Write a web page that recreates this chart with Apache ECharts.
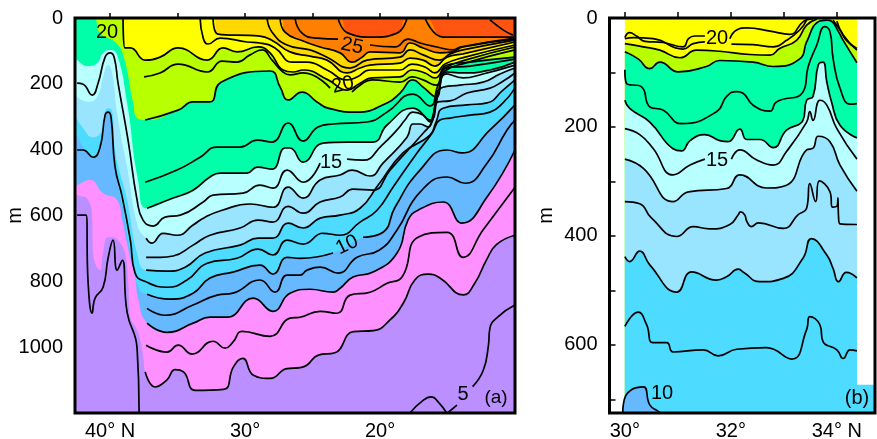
<!DOCTYPE html>
<html><head><meta charset="utf-8">
<style>html,body{margin:0;padding:0;background:#fff}#c{width:877px;height:439px}</style>
<script src="https://cdn.jsdelivr.net/npm/echarts@6/dist/echarts.min.js"></script></head>
<body><div id="c"></div>
<script>
// Panel (a): isotherms as [latitude, depth m]; null = gap for a contour label
const redLeft=[[23.11,0],[22.37,46],[20.52,58],[18.74,46],[18,0]];
const redRight=[[16.67,0],[15.33,58],[14.07,58],[10,58]];
const redInner=[[11.85,6],[10.89,36],[10.15,52]];
const lineB=[[26.3,0],[25.78,46],[24.67,61],[23.11,64],null,[20.74,82],[18.89,88],[17.93,64],[17.04,76],[15.78,88],[14.59,97],[14.07,88],[10,61]];
const lineC=[[27.4,0],[27.04,43],[25.7,70],[24.44,88],[22.96,106],[22.07,134],[21.33,119],[20.74,103],[18.52,106],[17.78,76],[16.81,91],[15.56,106],[14.67,103],[13.85,88],[10,64]];
const lineD=[[28.37,0],[28,43],[26.89,82],[25.19,97],[23.93,119],[22.22,152],[20.96,128],[18.52,119],[17.78,97],[16.81,112],[15.56,128],[14.81,109],[13.85,97],[10,67]];
const lineE=[[32.37,0],[32,49],[28.9,55],[27.93,70],[26.67,103],[25.19,116],[23.93,128],[22.44,167],[21.48,152],[20.74,143],[18.52,137],[17.78,122],[16.81,128],[15.93,146],[15.04,119],[13.85,109],[10,73]];
const lineF=[[33.33,0],[33.1,61],[32.74,79],[31.85,61],[29.85,73],[28.9,76],[27.78,91],[26.52,134],[25.4,134],[23.93,158],[22.44,188],[21.7,179],[20.74,158],[18.52,158],[17.63,140],[16.67,149],[15.93,167],[15.19,140],[13.7,119],[10,82]];
const lineA=[[39.04,0],[38.9,91],[38.5,91],[37.4,128],[36.3,119],[34.96,91],[32.8,128],[31.63,91],[30.6,103],[29.04,88],[28.15,106],[27.19,158],[26.44,164],[25.7,158],[23.85,188],[22.44,219],[21.48,198],[20.59,182],[18.52,179],[17.63,158],[16.67,167],[15.93,182],[15.19,152],[13.7,128],[10,88]];
const line20=[[37.48,179],[36.3,167],[34.96,140],[32.8,164],[31.7,131],[30.6,134],[29.63,112],[28.74,97],[28,128],[27.19,164],[26.67,173],[25.7,167],[23.7,213],null,[22.07,225],[21.48,204],[20.59,188],[18.52,195],[17.63,179],[16.81,188],[15.85,204],[15.19,161],[13.7,137],[10,97]];
const lineH=[[37.4,310],[34.96,280],[33.85,255],[32.6,255],[31.78,195],[28.15,161],[27.4,210],[26.81,249],[25.78,225],[24.67,255],[23.85,274],[21.7,286],[19.48,258],[18.52,228],[17.56,188],[16.81,210],[15.85,240],[15.19,146],[13.33,134],[10,119]];
const northH=[[42.6,0],[41.26,0],[40.74,46],[39.63,73],[39.04,112],[38.3,255],[38,304]];
const lineI=[[37.4,499],[35.04,462],[33.33,423],[32.07,392],[30.37,392],[29.1,371],[28,377],[26.81,319],[25.7,374],[24.59,331],[23.48,322],[20.96,316],[19.48,286],[17.56,231],[16.3,267],[15.7,204],[15.04,152],[13.33,146],[10,125]];
const lineJ=[[37.26,578],[35.33,547],[33.85,523],[32.6,483],[31.85,471],[29.85,471],[29.1,453],[28,459],[27.04,395],[26.67,395],[25.7,438],[24.22,380],[22.44,377],[20.52,377],[19.48,325],[17.56,274],[16.3,310],[15.7,234],[15.04,164],[13.85,167],[11.85,158],[10,134]];
const northJ=[[42.6,122],[42.44,128],[41.63,146],[40.96,137],[40.52,106],[40,97],[39.48,112],[38.74,258],[37.93,492]];
const line15=[[42.44,198],[42,201],[41.33,234],[40.89,198],[40.37,119],[40,106],[39.7,119],[39.41,198],[38.67,371],[38,553],[37.56,614],[36.8,632],[35.93,605],[34.8,599],[33.1,559],[32.37,538],[30.15,532],[28.9,508],[27.93,517],[26.89,462],[25.7,499],[24.44,441],null,[22.44,429],[21.26,432],[19.85,386],[18.74,340],[18.15,310],[17.56,286],[16.81,295],[16.3,316],[15.85,255],[15.04,170],[13.85,182],[12.37,170],[10,143]];
const lineL4=[[37.33,669],[36.9,684],[36.07,654],[35.04,660],[33.85,629],[32.96,605],[31.7,584],[29.63,565],[27.93,575],[26.81,514],[25.7,547],[24.44,492],[22.96,477],[22.07,462],[20.74,480],[19.78,441],[18,362],[17.56,322],[17.04,322],[16.44,331],[16.07,295],[15.48,213],[14.07,204],[12.37,195],[11.11,170],[10,152]];
const northL4=[[42.6,234],[41.63,255],[40.96,240],[40.52,179],[40.15,143],[39.85,167],[39.48,289],[38.74,453],[37.93,635]];
const lineL5=[[37.33,727],[36.3,727],[35.33,723],[33.85,690],[32.6,660],[30.37,638],[29.04,614],[27.93,620],[26.81,572],[25.7,593],[24.44,559],[22.96,544],[22,520],[20.52,523],[19.26,462],[16.81,350],[16.15,316],[15.7,255],[14.81,252],[13.56,228],[11.85,213],[10.89,192],[10,167]];
const lineL6=[[37.33,766],[35.78,769],[34.44,757],[32.96,714],[30.37,690],[29.04,669],[27.93,669],[26.81,623],[25.7,638],[24.44,608],[22.96,599],[21.48,578],[20.15,508],[18.3,410],[16.3,356],[15.85,316],[15.33,274],[13.56,264],[12.07,258],[10.89,219],[10,188]];
const northL6=[[42.6,295],[42.07,331],[41.26,362],[40.59,340],[40.37,286],[40.15,274],[39.85,283],[39.63,401],[38.74,553],[38,714]];
const lineL7=[[42.44,401],[42,401],[41.26,423],[40.74,392],[40.37,295],[40.15,286],[39.93,301],[39.63,453],[39.1,544],[38.5,675],[38.15,775],[37.26,803],[35.78,818],[34.3,796],[32.8,745],[30.6,730],[29.04,702],[27.93,720],[26.89,675],[25.7,687],[24.22,654],[22.96,660],[21.48,620],[20.22,584],[19.04,514],[17.26,410],[16.15,350],[15.56,310],[14.81,304],[13.33,295],[11.85,286],[10.89,258],[10,213]];
const line10=[[37.26,839],[35.56,854],[33.85,836],[32.6,790],[30.9,772],[28.9,751],[27.93,778],[26.89,727],[25.93,730],[23.48,714],null,[21.26,666],[19.78,651],[18.89,575],[17.04,462],[15.04,401],[13.93,410],[11.85,340],[10,264]];
const north10=[[42.6,340],[42,392],[41.26,423],[40.74,392],[40.37,295],[40.15,286],[39.85,304],[39.63,453],[39.1,568],[38.37,736],[37.78,827]];
const lineL9=[[37.26,882],[35.93,903],[33.85,872],[32.07,842],[30.9,836],[28.9,796],[27.78,833],[26.89,781],[25.93,781],[25.41,766],[24.44,757],[23.11,775],[21.7,727],[20.04,705],[18.74,644],[17.04,529],[15.04,483],[13.7,502],[12.07,441],[10.59,340],[10,310]];
const lineL10=[[37.26,927],[35.78,955],[33.85,927],[32.6,909],[31.33,909],[29.4,851],[27.93,891],[26.67,836],[25.19,824],[23.48,833],[22.96,821],[22,787],[20.52,772],[18.74,714],[17.93,614],[17.19,584],[15.33,559],[13.93,623],[12.07,544],[10,401]];
const northL10=[[42.6,514],[42.44,508],[41.48,492],[40.52,532],[39.48,553],[39.1,614],[38.67,699],[38.15,790],[37.93,851]];
const lineP1=[[37.33,994],[35.78,1015],[34.96,994],[33.93,1021],[32.37,982],[31.48,1003],[30.9,985],[30.22,952],[28.15,967],[26.67,912],[25.93,909],[24.44,891],[23.19,897],[22.22,842],[20.74,833],[19.48,806],[18.37,787],[17.19,666],[15.04,651],[13.85,727],[12.37,644],[10,514]];
const lineP2=[[37.4,1075],[36.66,1121],[35.8,1100],[35.18,1068],[34.56,1075],[33.7,1131],[31.6,1128],[30.86,1060],[30.17,1034],[29.38,1085],[28.14,1095],[26.9,1065],[25.92,1062],[25.43,1055],[24.57,1024],[23.34,1017],[21.98,953],[20.5,950],[19.26,917],[18.27,866],[17.41,795],[16.42,778],[15.56,790],[13.83,841],[12.97,805],[12.1,734],[11.36,688],[10,660]];
const northP2=[[42.6,532],[42.44,538],[41.63,553],[41.33,614],[41.26,714],[40.74,766],[40.52,714],[40.15,666],[39.78,666],[39.41,675],[38.9,714],[38.67,796],[38.52,903],[37.93,955],[37.56,1024]];
const lineDeep=[[42.44,599],[41.78,599],[41.63,803],[41.33,897],[41.11,851],[40.52,818],[40.15,730],[39.78,675],[39.48,766],[39.1,736],[38.74,894],[38,1003],[37.85,1200]];
const line5a=[[13.14,1120],[12.35,1070],[11.98,998],[11.86,943],[11.24,907],[10,872]];
const line5b=[[17.78,1200],[16.79,1161],[16.18,1151],[15.68,1167],[15.06,1200]];
const leader5=[[14.3,1176],[15,1200]];

// Panel (b)
const b1=[[30,36],[30.09,27],[30.22,33],[30.38,43],[30.72,45],[31.1,53],[31.2,38],[31.32,33],[31.51,33],null,[31.98,38],[32.11,22],[32.3,18],[32.74,24],[33.11,30],[33.36,7],[33.49,2],[33.55,1]];
const b2=[[30,38],[30.16,36],[30.53,38],[31.1,57],[31.29,47],[31.51,44],null,[32.01,48],[32.42,49],[32.8,53],[33.05,41],[33.3,22],[33.43,4]];
const b3Left=[[30,47],[30.35,53],[30.66,59],[31.04,73],[31.35,59],[31.79,61],[32.36,67],[32.74,68],[32.92,56],[33.24,41],[33.43,13],[33.62,2]];
const b3Right=[[33.93,4],[34.06,22],[34.18,41],[34.38,56]];
const b4=[[30,62],[30.25,75],[30.47,93],[30.66,81],[31.01,99],[31.54,89],[31.79,78],[32.42,81],[32.8,89],[33.3,75],[33.43,44],[33.65,7],[33.81,4],[33.9,6],[34.03,25],[34.12,41],[34.38,82]];
const b4x=[[34,6],[34.12,31],[34.38,59]];
const b5=[[30,95],[30.03,120],[30.31,126],[30.47,163],[30.72,169],[31.07,194],[31.73,172],[31.92,144],[32.11,135],[32.23,138],[32.42,160],[32.74,171],[32.86,154],[33.36,136],[33.46,89],[33.62,50],[33.77,16],[33.87,25],[33.93,75],[34.06,129],[34.25,158],[34.38,157]];
const b6=[[30,151],[30.09,166],[30.47,191],[30.91,240],[31.07,244],[31.23,225],[31.51,214],[31.79,225],[31.95,227],[32.17,204],[32.3,223],[32.55,223],[32.8,238],[33.05,206],[33.36,188],[33.43,151],[33.55,144],[33.65,86],[33.74,81],[33.81,117],[33.9,154],[34.06,197],[34.38,220]];
const b7=[[30,203],[30.28,214],[30.53,239],[30.91,288],[31.23,270],[31.51,259],null,[32.01,259],[32.17,242],[32.48,260],[32.8,270],[33.05,245],[33.43,191],[33.49,172],[33.55,188],[33.68,151],[33.81,160],[34,203],[34.38,259]];
const b8=[[30,259],[30.35,276],[30.91,337],[31.2,319],[31.92,313],[32.17,288],[32.67,312],[33.05,307],[33.43,242],[33.55,239],[33.65,217],[33.87,227],[34.06,270],[34.38,318]];
const b9=[[30,337],[30.28,341],[30.5,367],[30.98,401],[31.29,383],[31.6,387],[31.98,379],[32.14,361],[32.18,356],[32.26,361],[32.3,373],[32.39,383],[32.52,376],[32.99,386],[33.27,361],[33.43,349],[33.49,304],[33.6,337],[33.67,299],[33.87,319],[33.92,347],[34.01,344],[34.02,330],[34.03,361],[34.06,378],[34.38,379]];
const b10=[[30,438],[30.09,447],[30.28,428],[30.47,453],[30.98,503],[31.26,466],[31.73,481],[31.92,475],[32.14,461],[32.23,466],[32.55,484],[32.99,478],[33.36,441],[33.52,405],[33.81,435],[33.93,460],[34.03,484],[34.18,467],[34.38,477]];
const b11=[[30,566],[30.25,540],[30.41,563],[30.53,596],[30.79,596],[30.91,613],[31.48,609],[31.76,620],[32.11,608],[32.67,605],[33.15,626],[33.43,572],[33.49,548],[33.68,563],[33.74,594],[34,609],[34.12,625],[34.25,609],[34.38,611]];
const bBlob=[[29.96,725],[29.97,710],[30.13,682],[30.35,677],[30.47,710],[30.63,722],[30.7,725]];
const bCorner=[[34.38,673],[34.72,673]];

const latTicksA=[40,35,30,25,20,15];
const latLabelsA=[40,30,20];
const latTicksB=[30,31,32,33,34];
const latLabelsB=[30,32,34];
const depthTicksB=[0,100,200,300,400,500,600,700];
const depthLabelsB=[0,200,400,600];

const C={red:'#ff5510',orange:'#ff8000',gold:'#ffd800',yellow:'#ffff00',yg:'#b8ff00',green:'#00ffa8',pale:'#b8ffff',lb:'#99e5ff',cyan:'#4ddcff',blue:'#66b8ff',pink:'#ff90ff',purple:'#bb8fff'};
const FONT='"Liberation Sans",Arial,sans-serif';
const SM=0.5;
const solid=a=>a.filter(Boolean);
const withGaps=a=>a.map(p=>p||['-','-']);
function fill(idx,pts,color){return {type:'line',xAxisIndex:idx,yAxisIndex:idx,data:solid(pts),smooth:SM,symbol:'none',silent:true,
  lineStyle:{width:0},areaStyle:{color:color,opacity:1,origin:'end'},z:2};}
function line(idx,pts,smooth){return {type:'line',xAxisIndex:idx,yAxisIndex:idx,data:withGaps(pts),smooth:smooth===false?false:SM,symbol:'none',silent:true,
  lineStyle:{color:'#000',width:1.7},connectNulls:false,z:3};}

const series=[
  fill(0,[[42.6,0],[10,0]],C.red),
  fill(0,[[42.6,0],...redLeft,...redRight],C.orange),
  fill(0,[[42.6,0],...lineC],C.gold),
  fill(0,[[42.6,0],...lineE],C.yellow),
  fill(0,[[42.6,0],...lineA],C.yg),
  fill(0,[...northH,...lineH],C.green),
  fill(0,[...northJ,...lineJ],C.pale),
  fill(0,[...northL4,...lineL4],C.lb),
  fill(0,[...northL6,...lineL6],C.cyan),
  fill(0,[...north10,...line10],C.blue),
  fill(0,[...northL10,...lineL10],C.pink),
  fill(0,[...northP2,...lineP2],C.purple),
  fill(1,[[30,0],[34.38,0]],C.yellow),
  fill(1,[...b3Left,[33.68,0],[33.9,0],...b3Right],C.yg),
  fill(1,b4,C.green),
  fill(1,b6,C.pale),
  fill(1,b8,C.lb),
  fill(1,b10,C.cyan),
  fill(1,bCorner,C.cyan),
  fill(1,bBlob,C.blue)
];
[redLeft,redRight,redInner,lineB,lineC,lineD,lineE,lineF,lineA,line20,lineH,lineI,lineJ,line15,lineL4,lineL5,lineL6,lineL7,line10,lineL9,lineL10,lineP1,lineP2,lineDeep,line5a,line5b].forEach(a=>series.push(line(0,a)));
series.push(line(0,leader5,false));
[b1,b2,b3Left,b3Right,b4,b4x,b5,b6,b7,b8,b9,b10,b11,bBlob].forEach(a=>series.push(line(1,a)));

function text(x,y,s,rot,size){return {type:'text',position:[x,y],rotation:rot||0,z:20,
  style:{text:s,fill:'#000',font:(size||20)+'px '+FONT,textAlign:'center',textVerticalAlign:'middle'}};}

const axisCommon={axisLine:{show:false},splitLine:{show:false},
  axisLabel:{color:'#000',fontSize:20,fontFamily:FONT}};
const nameStyle={color:'#000',fontSize:20,fontFamily:FONT};
const chart=echarts.init(document.getElementById('c'),null,{renderer:'canvas'});
chart.setOption({animation:false,backgroundColor:'#fff',
  grid:[{left:75,top:18,width:440,height:395,outerBoundsMode:'none'},{left:609.5,top:18,width:265.5,height:395,outerBoundsMode:'none'}],
  xAxis:[
    {gridIndex:0,type:'value',min:10,max:42.6,inverse:true,...axisCommon,
     axisTick:{show:true,inside:true,length:5,lineStyle:{color:'#000',width:1.5},customValues:latTicksA},
     axisLabel:{...axisCommon.axisLabel,margin:8,customValues:latLabelsA,formatter:v=>v===40?'40° N':v+'°'}},
    {gridIndex:1,type:'value',min:29.71,max:34.72,...axisCommon,
     axisTick:{show:true,inside:true,length:6,lineStyle:{color:'#000',width:1.5},customValues:latTicksB},
     axisLabel:{...axisCommon.axisLabel,margin:8,customValues:latLabelsB,formatter:v=>v===34?'34° N':v+'°'}}
  ],
  yAxis:[
    {gridIndex:0,type:'value',min:0,max:1200,interval:200,inverse:true,...axisCommon,
     name:'m',nameLocation:'middle',nameGap:50,nameRotate:90,nameMoveOverlap:false,nameTextStyle:nameStyle,
     axisTick:{show:true,inside:true,length:8,lineStyle:{color:'#000',width:1.5}},
     minorTick:{show:true,splitNumber:2,length:4,lineStyle:{color:'#000',width:1.5}},
     axisLabel:{...axisCommon.axisLabel,margin:12,showMaxLabel:false,formatter:v=>String(v)}},
    {gridIndex:1,type:'value',min:0,max:725,inverse:true,...axisCommon,
     name:'m',nameLocation:'middle',nameGap:53,nameRotate:90,nameMoveOverlap:false,nameTextStyle:nameStyle,
     axisTick:{show:true,inside:true,length:6,lineStyle:{color:'#000',width:1.5},customValues:depthTicksB},
     axisLabel:{...axisCommon.axisLabel,margin:12,customValues:depthLabelsB,formatter:v=>String(v)}}
  ],
  series:series,
  graphic:[
    {type:'rect',z:15,shape:{x:75,y:18,width:440,height:395},style:{fill:'none',stroke:'#000',lineWidth:3}},
    {type:'rect',z:15,shape:{x:609.5,y:18,width:265.5,height:395},style:{fill:'none',stroke:'#000',lineWidth:3}},
    text(107,32,'20'),text(352,46,'25',-0.2),text(343,85,'20',0.25),text(331,162,'15'),text(347,245,'10',0.45),
    text(463,394,'5'),text(496,398,'(a)',0,19),
    text(717,38,'20'),text(717,160,'15'),text(662,393,'10'),text(857,398,'(b)')
  ]
});
</script></body></html>
